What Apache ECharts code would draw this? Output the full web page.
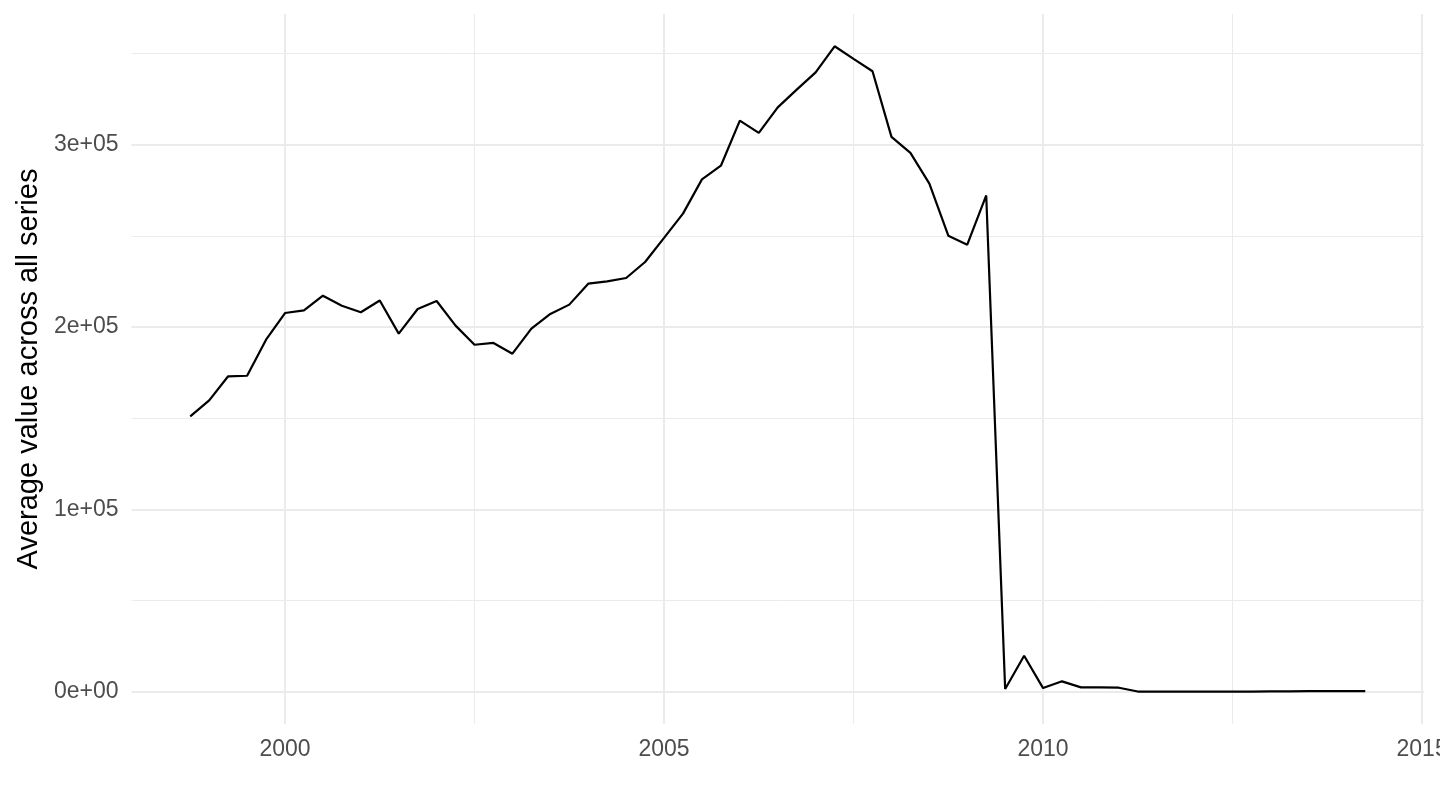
<!DOCTYPE html>
<html>
<head>
<meta charset="utf-8">
<style>html,body{margin:0;padding:0;background:#fff;}#chart{width:1440px;height:810px;}</style>
<script src="https://cdn.jsdelivr.net/npm/echarts@6/dist/echarts.min.js"></script>
</head>
<body>
<div id="chart"></div>
<script>
// Quarterly time points (decimal years)
const quarters = [
  1998.75,
  1999.0, 1999.25, 1999.5, 1999.75,
  2000.0, 2000.25, 2000.5, 2000.75,
  2001.0, 2001.25, 2001.5, 2001.75,
  2002.0, 2002.25, 2002.5, 2002.75,
  2003.0, 2003.25, 2003.5, 2003.75,
  2004.0, 2004.25, 2004.5, 2004.75,
  2005.0, 2005.25, 2005.5, 2005.75,
  2006.0, 2006.25, 2006.5, 2006.75,
  2007.0, 2007.25, 2007.5, 2007.75,
  2008.0, 2008.25, 2008.5, 2008.75,
  2009.0, 2009.25, 2009.5, 2009.75,
  2010.0, 2010.25, 2010.5, 2010.75,
  2011.0, 2011.25, 2011.5, 2011.75,
  2012.0, 2012.25, 2012.5, 2012.75,
  2013.0, 2013.25, 2013.5, 2013.75,
  2014.0, 2014.25
];
// Average value across all series
const avgValues = [
  151000,
  159800, 173000, 173300, 193100,
  207700, 209200, 217200, 211700,
  208100, 214600, 196400, 209900,
  214300, 200800, 190300, 191300,
  185400, 199100, 207200, 212300,
  223800, 225100, 226900, 235700,
  248900, 262200, 281000, 288500,
  313200, 306500, 320500, 330200,
  339700, 354000, 347100, 340300,
  304300, 295500, 278700, 250100,
  245200, 272200, 1500, 19700,
  2000, 5700, 2400, 2400,
  2200, 100, 100, 100,
  100, 100, 100, 100,
  200, 200, 300, 300,
  300, 300
];
const xMajorTicks = [2000, 2005, 2010, 2015];
const xTickLabels = ['2000', '2005', '2010', '2015'];
const xMinorTicks = [2002.5, 2007.5, 2012.5];
const yMajorTicks = [0, 100000, 200000, 300000];
const yTickLabels = ['0e+00', '1e+05', '2e+05', '3e+05'];
const yMinorTicks = [50000, 150000, 250000, 350000];

const xMin = 1997.975, xMax = 2015.025;
const yMin = -17700, yMax = 371700;

const lineData = quarters.map((q, i) => [q, avgValues[i]]);

const gridCol = '#ebebeb';
function vLines(arr, w) { return arr.map(v => ({ xAxis: v, lineStyle: { width: w, color: gridCol, type: 'solid' } })); }
function hLines(arr, w) { return arr.map(v => ({ yAxis: v, lineStyle: { width: w, color: gridCol, type: 'solid' } })); }

const font = 'Liberation Sans, Arial, sans-serif';
const chart = echarts.init(document.getElementById('chart'), null, { renderer: 'canvas' });
chart.setOption({
  animation: false,
  backgroundColor: '#ffffff',
  grid: { left: 131.5, right: 16, top: 14, bottom: 86, containLabel: false, outerBoundsMode: 'none' },
  xAxis: {
    type: 'value', min: xMin, max: xMax,
    axisLine: { show: false }, axisTick: { show: false }, splitLine: { show: false },
    axisLabel: {
      customValues: xMajorTicks, hideOverlap: false,
      formatter: v => { const i = xMajorTicks.findIndex(t => Math.abs(t - v) < 1e-6); return i >= 0 ? xTickLabels[i] : ''; },
      color: '#4d4d4d', fontSize: 23, fontFamily: font, margin: 14
    }
  },
  yAxis: {
    type: 'value', min: yMin, max: yMax,
    name: 'Average value across all series', nameLocation: 'middle', nameGap: 87,
    nameTextStyle: { color: '#000000', fontSize: 29, fontFamily: font },
    axisLine: { show: false }, axisTick: { show: false }, splitLine: { show: false },
    axisLabel: {
      customValues: yMajorTicks,
      formatter: v => { const i = yMajorTicks.findIndex(t => Math.abs(t - v) < 1e-3); return i >= 0 ? yTickLabels[i] : ''; },
      color: '#4d4d4d', fontSize: 23, fontFamily: font, margin: 13
    }
  },
  series: [
    {
      type: 'line', data: [], silent: true,
      markLine: {
        silent: true, symbol: ['none', 'none'], label: { show: false }, animation: false,
        data: [].concat(vLines(xMinorTicks, 1), hLines(yMinorTicks, 1), vLines(xMajorTicks, 2), hLines(yMajorTicks, 2))
      },
      z: 1
    },
    {
      type: 'line', data: lineData, showSymbol: false, symbol: 'none',
      lineStyle: { color: '#000000', width: 2.2 }, z: 5
    }
  ]
});
</script>
</body>
</html>
